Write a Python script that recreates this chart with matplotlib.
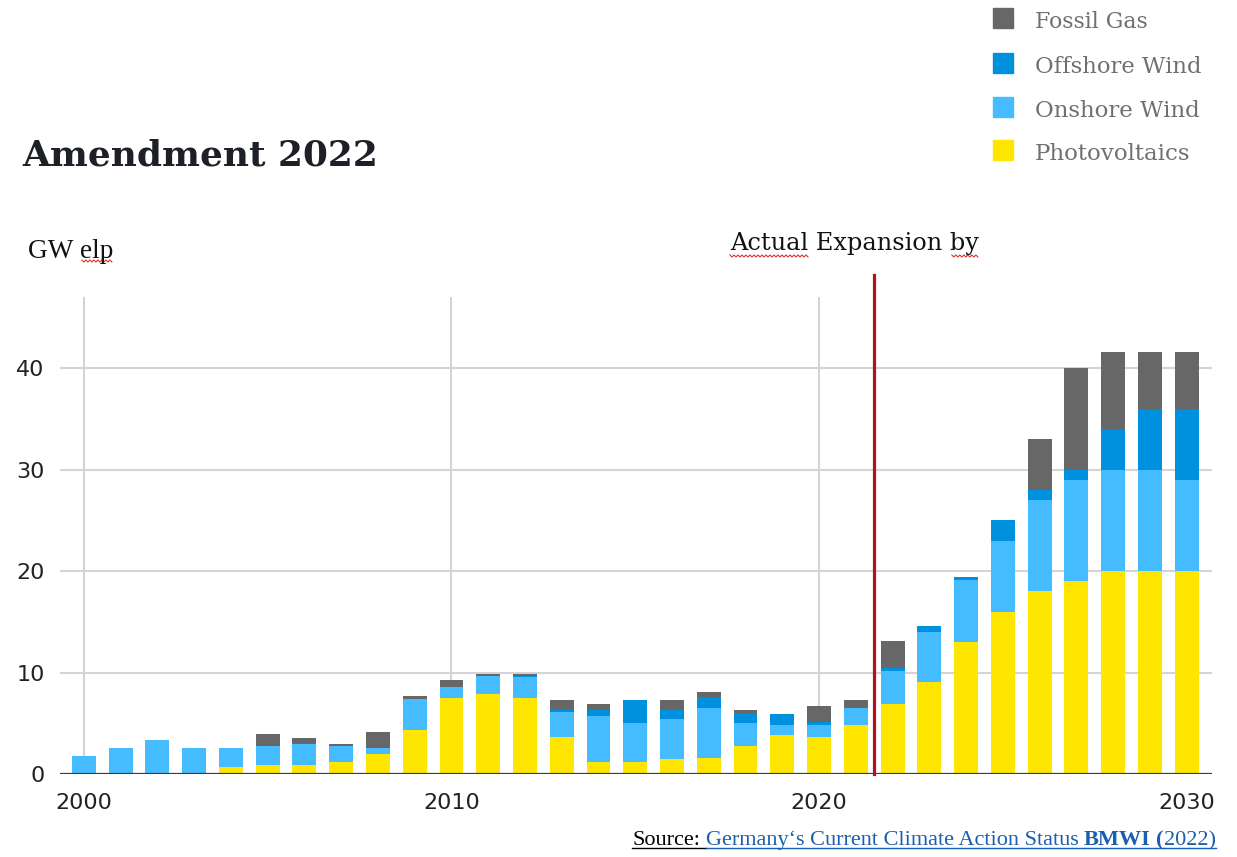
import numpy as np
import matplotlib
matplotlib.use("Agg")
import matplotlib.pyplot as plt
from matplotlib.lines import Line2D
from matplotlib.patches import Rectangle

# Annual net capacity additions (GW), 2000-2030
years = list(range(2000, 2031))
photovoltaics = [0, 0, 0, 0, 0.65, 0.85, 0.85, 1.2, 2.0, 4.35,
                 7.5, 7.9, 7.5, 3.6, 1.2, 1.2, 1.45, 1.6, 2.8, 3.8,
                 3.6, 4.8, 6.9, 9.05, 13.0, 16.0, 18.0, 19.0, 20.0, 20.0,
                 20.0]
onshore_wind = [1.8, 2.6, 3.35, 2.6, 1.95, 1.95, 2.15, 1.6, 0.6, 3.0,
                1.1, 1.8, 2.1, 2.55, 4.55, 3.8, 3.95, 4.95, 2.25, 1.0,
                1.2, 1.7, 3.25, 4.95, 6.1, 7.0, 9.0, 10.0, 10.0, 10.0,
                9.0]
offshore_wind = [0, 0, 0, 0, 0, 0, 0, 0, 0, 0,
                 0, 0, 0.1, 0.2, 0.55, 2.3, 0.9, 1.05, 0.95, 1.1,
                 0.3, 0, 0.3, 0.55, 0.35, 2.0, 1.0, 1.0, 4.0, 6.0,
                 7.0]
fossil_gas = [0, 0, 0, 0, 0, 1.15, 0.55, 0.2, 1.55, 0.35,
              0.65, 0.15, 0.2, 0.95, 0.6, 0, 1.0, 0.45, 0.3, 0,
              1.6, 0.8, 2.7, 0, 0, 0, 5.0, 10.0, 7.6, 5.6,
              5.6]

series = [
    ("Photovoltaics", photovoltaics, "#ffe600"),
    ("Onshore Wind", onshore_wind, "#44bcff"),
    ("Offshore Wind", offshore_wind, "#0091de"),
    ("Fossil Gas", fossil_gas, "#676767"),
]
yticks = [0, 10, 20, 30, 40]
xticks = [2000, 2010, 2020, 2030]
cutoff_year = 2021.5

W, H = 1237, 857
fig = plt.figure(figsize=(W / 100, H / 100), dpi=100)
fig.patch.set_facecolor("white")


def px(x, y):
    # pixel position (from top-left) to figure fraction
    return x / W, 1 - y / H


ax = fig.add_axes([60 / W, 1 - 774 / H, (1212 - 60) / W, (774 - 297) / H])
ax.set_xlim(1999.35, 2030.69)
ax.set_ylim(0, 47)

for y in yticks[1:]:
    ax.axhline(y, color="#d4d4d4", lw=1.5, zorder=0)
for x in xticks[:-1]:
    ax.axvline(x, color="#d4d4d4", lw=1.5, zorder=0)

bottom = np.zeros(len(years))
for name, vals, color in series:
    ax.bar(years, vals, width=0.65, bottom=bottom, color=color, zorder=2)
    bottom += np.array(vals)

ax.axhline(0, color="#3a3a3a", lw=1.6, zorder=3)
ax.axvline(cutoff_year, ymin=0, ymax=1.046, color="#b3121c", lw=2.3,
           zorder=4, clip_on=False)

for s in ax.spines.values():
    s.set_visible(False)
ax.set_yticks(yticks)
ax.set_xticks(xticks)
ax.tick_params(length=0, labelsize=16, colors="#222222")
ax.tick_params(axis="x", pad=14)
ax.tick_params(axis="y", pad=11)

renderer = fig.canvas.get_renderer()


def fit_width(t, target):
    w = t.get_window_extent(renderer).width
    t.set_fontsize(t.get_fontsize() * target / w)
    return t


def text_px(x, y, s, target=None, **kw):
    kw.setdefault("family", "DejaVu Serif")
    t = fig.text(*px(x, y), s, va="baseline", ha="left", **kw)
    if target:
        fit_width(t, target)
    return t


def extent_px(t):
    bb = t.get_window_extent(renderer)
    return bb.x0, bb.x1


def width_of(s, size, weight="normal", family="DejaVu Serif"):
    t = fig.text(0, 0, s, size=size, weight=weight, family=family)
    w = t.get_window_extent(renderer).width
    t.remove()
    return w


def squiggle(x0, x1, y):
    xs = np.arange(x0, x1 + 0.1, 2.0)
    ys = y + np.where(np.arange(len(xs)) % 2 == 0, 0, 2.0)
    fig.add_artist(Line2D(xs / W, 1 - ys / H, color="#e0302a", lw=0.8))


# headings
text_px(22, 166, "Amendment 2022", target=356, size=26,
        weight="bold", color="#1e2028")

gw = text_px(28, 258, "GW elp", target=85, size=18, color="#111111",
             family="Liberation Serif")
gw_pre = width_of("GW ", gw.get_fontsize(), family="Liberation Serif")
squiggle(28 + gw_pre + 2, extent_px(gw)[1], 260)

ae = text_px(730, 250, "Actual Expansion by", target=248, size=18,
             color="#111111")
ae_size = ae.get_fontsize()
squiggle(730, 730 + width_of("Actual", ae_size), 255)
squiggle(730 + width_of("Actual Expansion ", ae_size) + 2,
         extent_px(ae)[1], 255)

# legend
legend_rows = [("Fossil Gas", "#676767", 28, 113),
               ("Offshore Wind", "#0091de", 73, 167),
               ("Onshore Wind", "#44bcff", 117, 165),
               ("Photovoltaics", "#ffe600", 160, 156)]
for label, color, base, width in legend_rows:
    fig.add_artist(Rectangle(px(993, base), 20 / W, 20 / H,
                             color=color, transform=fig.transFigure))
    text_px(1035, base, label, target=width, size=18, color="#707070")

# source line, underlined like a hyperlink
src_font = "Liberation Serif"
link_blue = "#1a5fb0"
pieces = [("Source:", "black", "normal", True),
          ("Germany‘s Current Climate Action Status", link_blue, "normal", True),
          ("BMWI", link_blue, "bold", True),
          ("(", link_blue, "bold", False),
          ("2022)", link_blue, "normal", False)]


def line_width(size):
    space = (width_of("x x", size, family=src_font)
             - width_of("xx", size, family=src_font))
    total = 0
    for s, color, weight, add_space in pieces:
        total += (width_of(s, size, weight, src_font)
                  + (space if add_space else 0))
    return total, space


src_size = 14 * 588 / line_width(14)[0]
_, space = line_width(src_size)
x = 632
for s, color, weight, add_space in pieces:
    text_px(x, 845, s, size=src_size, color=color, weight=weight,
            family=src_font)
    w = width_of(s, src_size, weight, src_font)
    end = x + w + (space if add_space else 0)
    fig.add_artist(Line2D([x / W, end / W], [1 - 848 / H] * 2,
                          color=color, lw=1.0))
    x = end

fig.savefig("out.png", dpi=100)
